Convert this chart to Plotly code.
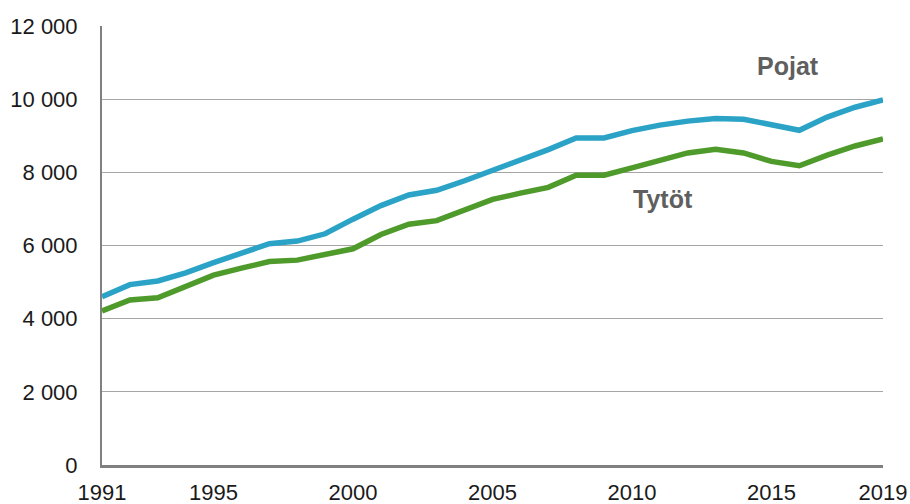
import plotly.graph_objects as go

years = list(range(1991, 2020))
pojat = [4600, 4930, 5030, 5250, 5530, 5790, 6050, 6120, 6320, 6720,
         7090, 7380, 7510, 7770, 8050, 8320, 8620, 8940, 8940, 9140,
         9290, 9400, 9470, 9450, 9300, 9150, 9510, 9780, 9980]
tytot = [4210, 4510, 4570, 4880, 5190, 5380, 5560, 5600, 5740, 5910,
         6300, 6580, 6680, 6980, 7260, 7430, 7590, 7920, 7920, 8120,
         8330, 8530, 8630, 8530, 8300, 8180, 8470, 8720, 8910]

x_ticks = [1991, 1995, 2000, 2005, 2010, 2015, 2019]
y_ticks = [0, 2000, 4000, 6000, 8000, 10000, 12000]
y_ticktext = ["0", "2 000", "4 000", "6 000", "8 000", "10 000", "12 000"]

label_pojat = ("Pojat", 2015.6, 10900)
label_tytot = ("Tytöt", 2011.1, 7270)

fig = go.Figure()
fig.add_trace(go.Scatter(x=years, y=tytot, mode="lines", name="Tytöt",
                         line=dict(color="#4e9a2a", width=5.5)))
fig.add_trace(go.Scatter(x=years, y=pojat, mode="lines", name="Pojat",
                         line=dict(color="#2ba3c6", width=5.5)))

for txt, xx, yy in (label_pojat, label_tytot):
    fig.add_annotation(x=xx, y=yy, text="<b>" + txt + "</b>", showarrow=False,
                       font=dict(family="Liberation Sans, Arial", size=25, color="#5f5f5f"))

fig.update_layout(
    width=910, height=504,
    margin=dict(l=102, r=27, t=26, b=39, autoexpand=False),
    plot_bgcolor="white", paper_bgcolor="white",
    showlegend=False,
    font=dict(family="Liberation Sans, Arial", size=22, color="#1a1a1a"),
)
fig.update_xaxes(
    range=[1991, 2019], tickvals=x_ticks, showgrid=False, automargin=False,
    showline=True, linecolor="#808080", linewidth=3,
    ticks="outside", ticklen=6, tickcolor="rgba(0,0,0,0)",
    zeroline=False,
)
fig.update_yaxes(
    range=[0, 12000], tickvals=y_ticks, ticktext=y_ticktext, automargin=False,
    showgrid=True, gridcolor="#a6a6a6", gridwidth=1,
    showline=True, linecolor="#808080", linewidth=2,
    ticks="outside", ticklen=18, tickcolor="rgba(0,0,0,0)",
    zeroline=False,
)

fig.write_html(
    "out.html",
    config={"displayModeBar": False},
    post_script="document.body.style.margin='0';document.body.style.overflow='hidden';",
)
